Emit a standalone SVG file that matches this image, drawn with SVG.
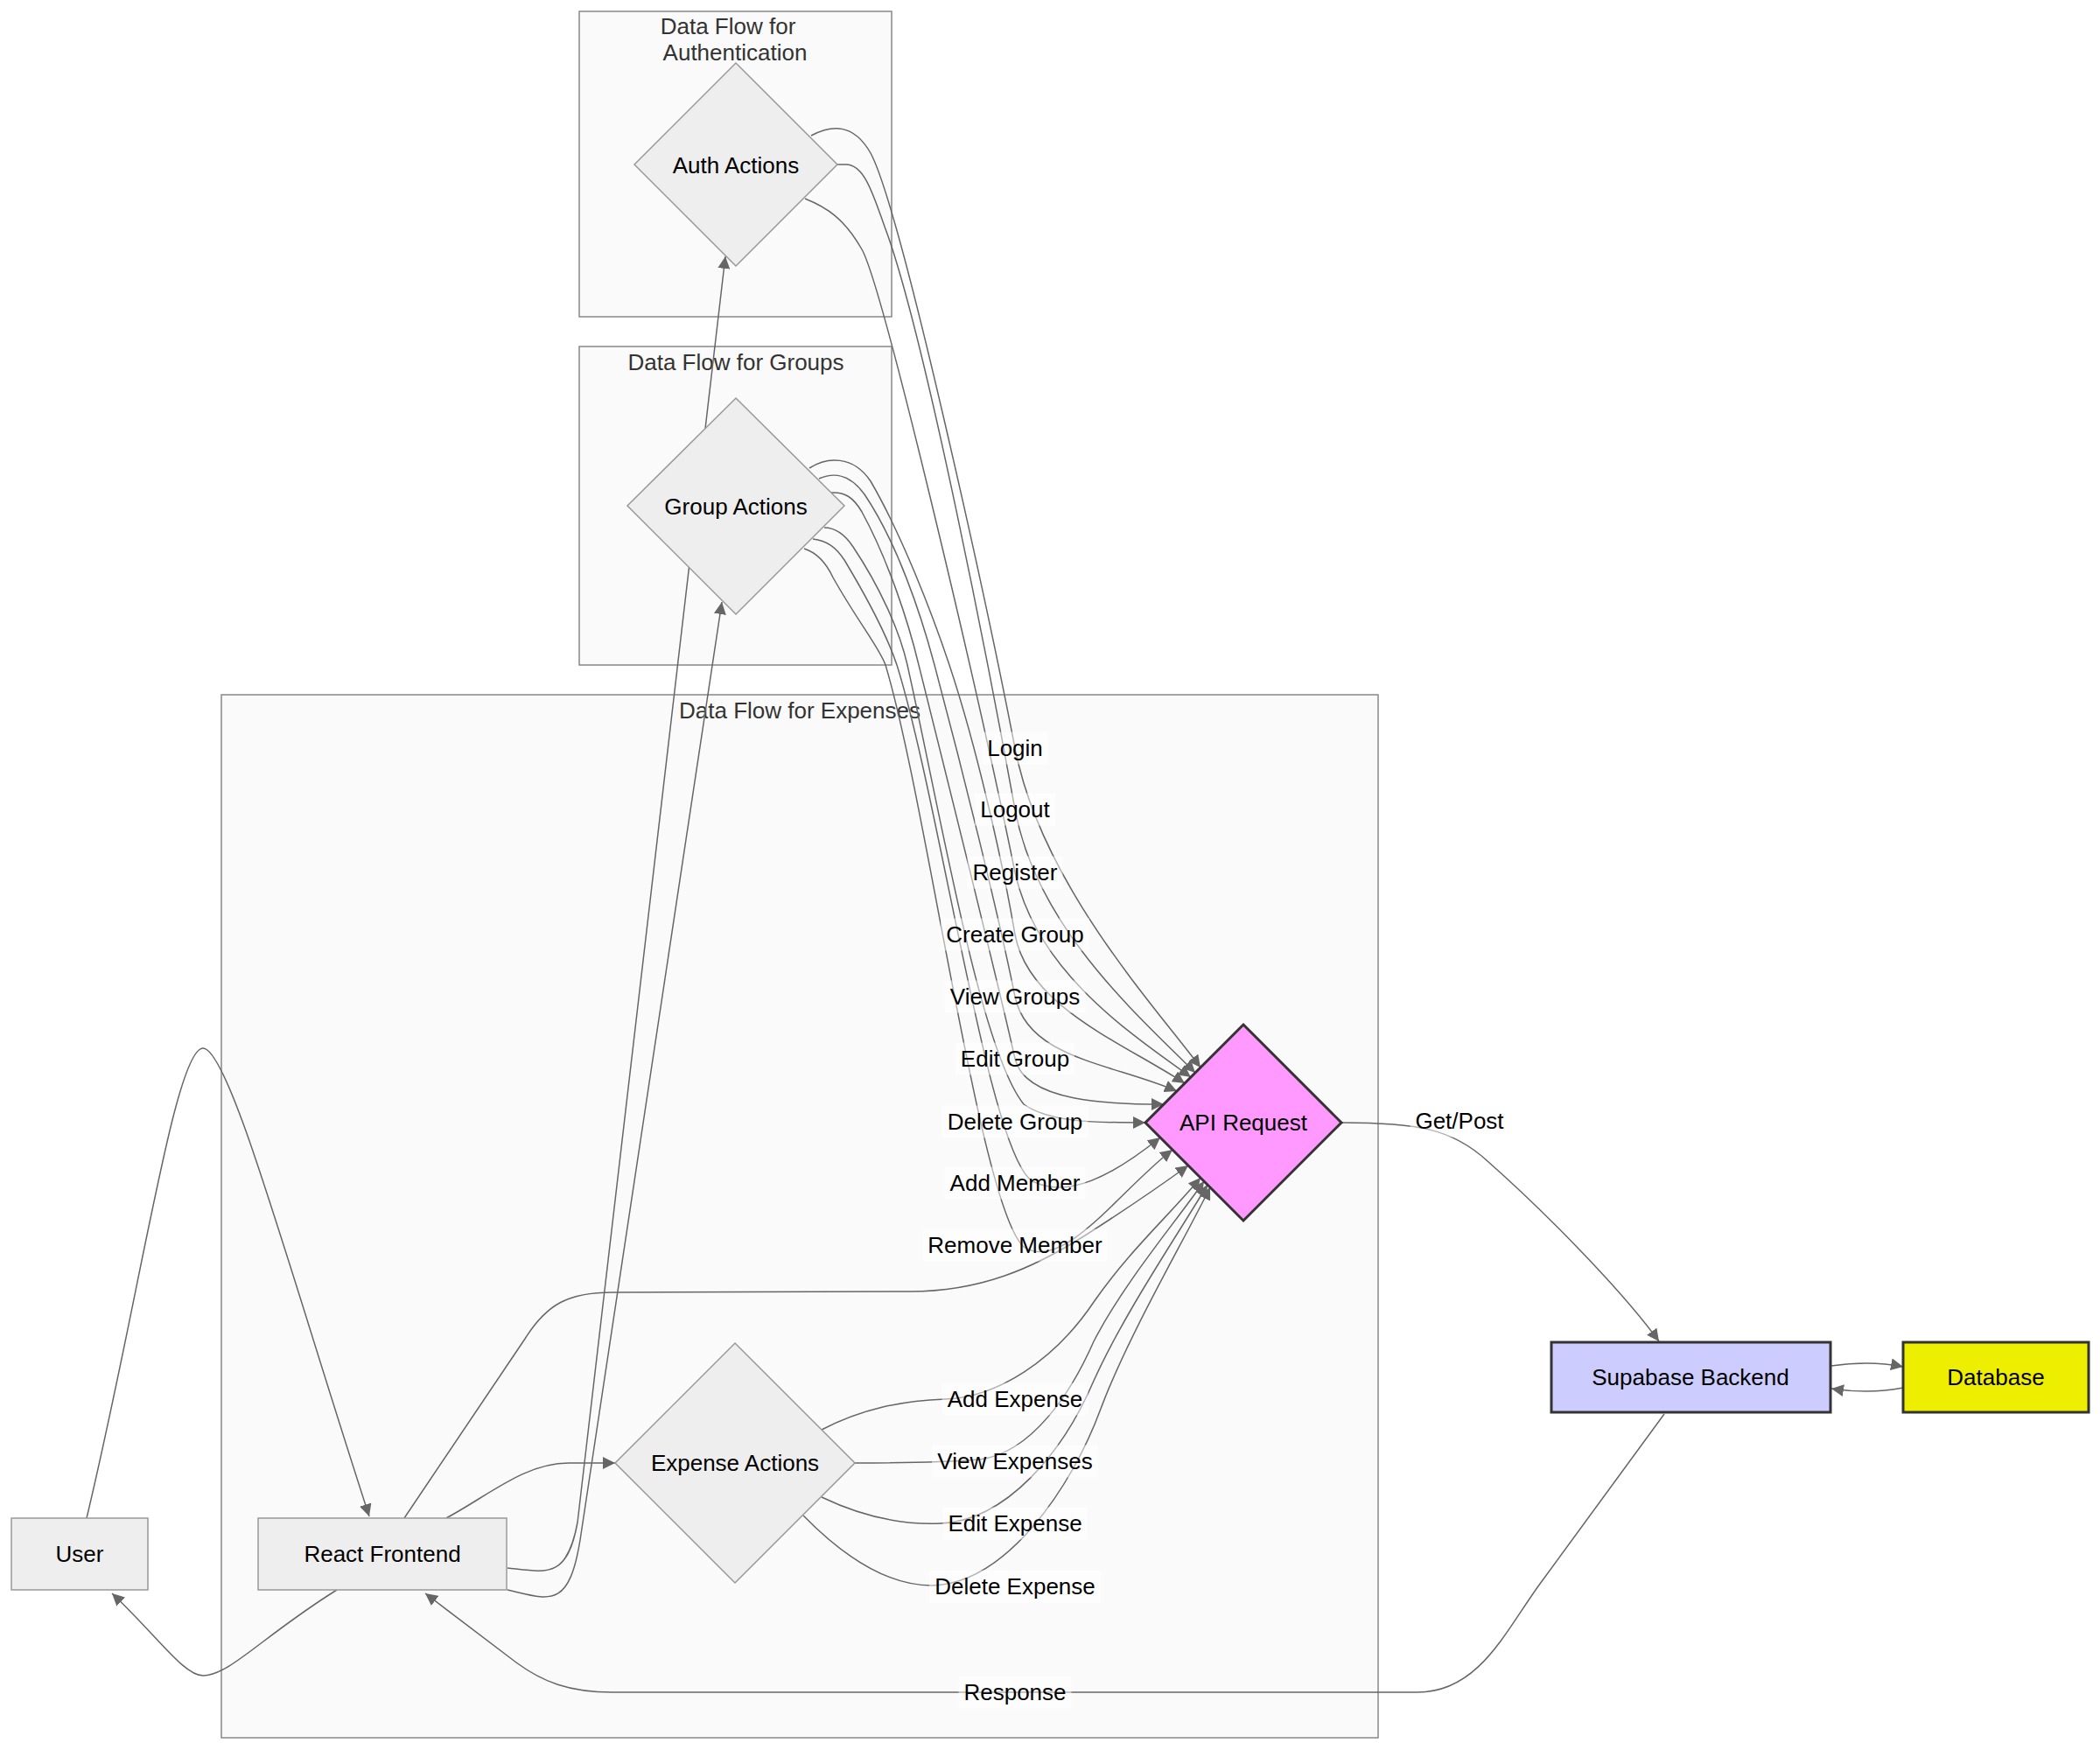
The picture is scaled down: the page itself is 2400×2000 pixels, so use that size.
<svg xmlns="http://www.w3.org/2000/svg" width="2400" height="2000" viewBox="0 0 2400 2000">
<defs>
  <marker id="arrow" viewBox="0 0 10 10" refX="10" refY="5" markerUnits="userSpaceOnUse" markerWidth="14" markerHeight="14" orient="auto">
    <path d="M0,0 L10,5 L0,10 z" fill="#666"/>
  </marker>
</defs>
<style>
  text { font-family: "Liberation Sans", Arial, sans-serif; font-size: 26px; }
  .cluster rect { fill: #fafafa; stroke: #888; stroke-width: 1.5; }
  .cluster text { fill: #333; text-anchor: middle; }
  .node rect, .node polygon { fill: #eee; stroke: #999; stroke-width: 1.5; }
  .node text { fill: #000; text-anchor: middle; }
  .node.api polygon { fill: #f9f; stroke: #333; stroke-width: 3; }
  .node.backend rect { fill: #ccf; stroke: #333; stroke-width: 3; }
  .node.db rect { fill: #ee0; stroke: #333; stroke-width: 3; }
  .edge { fill: none; stroke: #666; stroke-width: 1.5; marker-end: url(#arrow); }
  .label rect { fill: #fff; opacity: 0.5; }
  .label text { fill: #000; text-anchor: middle; }
</style>
<rect width="2400" height="2000" fill="#fff"/>

<!-- subgraphs -->
<g id="cluster-auth" class="cluster">
  <rect x="662" y="13" width="357" height="349"/>
  <text x="832" y="39">Data Flow for</text>
  <text x="840" y="69">Authentication</text>
</g>
<g id="cluster-groups" class="cluster">
  <rect x="662" y="396" width="357" height="364"/>
  <text x="841" y="423">Data Flow for Groups</text>
</g>
<g id="cluster-expenses" class="cluster">
  <rect x="253" y="794" width="1322" height="1192"/>
  <text x="914" y="821">Data Flow for Expenses</text>
</g>

<!-- connectors -->
<g id="connectors">
  <path class="edge" d="M99,1735 C160,1480 200,1198 232,1198 C262,1198 330,1450 422,1733"/>
  <path class="edge" d="M385,1817 C300,1870 262,1915 232,1915 C210,1915 180,1870 128,1821"/>
  <path class="edge" d="M580,1792 C625,1797 648,1805 660,1740 L829,293"/>
  <path class="edge" d="M580,1817 C628,1828 650,1840 663,1760 L825,688"/>
  <path class="edge" d="M510,1735 C560,1708 600,1672 650,1672 L703,1672"/>
  <path class="edge" d="M462,1735 L600,1530 C625,1490 650,1477 700,1477 L1040,1476 C1120,1476 1180,1450 1240,1412 C1290,1380 1325,1356 1358,1332"/>

  <!-- auth actions -->
  <path class="edge" d="M927,155 C950,143 975,140 995,175 C1030,240 1130,700 1160,855 C1190,1010 1320,1150 1372,1220"/>
  <path class="edge" d="M957,188 L967,188 C990,188 1000,230 1015,270 C1060,400 1130,760 1160,925 C1185,1060 1300,1160 1366,1226"/>
  <path class="edge" d="M920,227 C945,237 965,250 985,285 C1010,330 1120,800 1160,997 C1185,1110 1290,1180 1361,1231"/>

  <!-- group actions -->
  <path class="edge" d="M925,535 C945,522 975,520 995,550 C1030,610 1065,700 1085,760 C1115,850 1145,980 1160,1068 C1175,1150 1280,1190 1354,1238"/>
  <path class="edge" d="M936,547 C952,540 970,540 988,565 C1025,620 1052,700 1068,760 C1100,880 1140,1040 1160,1139 C1175,1210 1270,1215 1345,1247"/>
  <path class="edge" d="M950,563 C965,562 975,568 985,585 C1015,640 1038,710 1050,760 C1085,900 1140,1120 1160,1210 C1172,1260 1270,1262 1330,1262"/>
  <path class="edge" d="M942,603 C955,603 965,610 975,625 C1005,670 1028,720 1037,760 C1075,930 1120,1200 1170,1262 C1200,1283 1250,1283 1309,1283"/>
  <path class="edge" d="M929,616 C945,618 955,625 965,640 C995,690 1015,730 1025,760 C1075,920 1130,1320 1180,1350 C1220,1370 1270,1345 1326,1300"/>
  <path class="edge" d="M919,627 C935,632 945,645 952,660 C980,710 1005,740 1012,760 C1060,920 1120,1380 1170,1425 C1215,1455 1280,1360 1340,1314"/>

  <!-- expense actions -->
  <path class="edge" d="M939,1634 C985,1610 1030,1601 1080,1599 C1140,1597 1205,1555 1250,1488 C1290,1430 1340,1385 1372,1346"/>
  <path class="edge" d="M977,1672 C1030,1672 1080,1671 1120,1668 C1180,1660 1225,1590 1250,1533 C1285,1465 1345,1395 1376,1350"/>
  <path class="edge" d="M939,1711 C985,1733 1030,1743 1075,1741 C1150,1738 1215,1660 1250,1578 C1285,1500 1350,1405 1380,1354"/>
  <path class="edge" d="M918,1732 C965,1780 1015,1812 1065,1812 C1150,1810 1225,1700 1258,1610 C1290,1525 1352,1420 1383,1357"/>

  <!-- backend -->
  <path class="edge" d="M1533,1283 C1620,1283 1660,1290 1700,1327 C1760,1380 1850,1470 1896,1533"/>
  <path class="edge" d="M2093,1561 C2120,1557 2150,1557 2175,1562"/>
  <path class="edge" d="M2175,1586 C2150,1591 2120,1591 2093,1587"/>
  <path class="edge" d="M1902,1616 L1760,1810 C1720,1865 1690,1934 1620,1934 L700,1934 C650,1934 620,1922 590,1900 L486,1821"/>
</g>

<!-- connector labels -->
<g id="connector-labels">
  <g class="label"><rect x="1122" y="836.5" width="76" height="37"/><text x="1160" y="864">Login</text></g>
  <g class="label"><rect x="1114" y="906.5" width="92" height="37"/><text x="1160" y="934">Logout</text></g>
  <g class="label"><rect x="1105.5" y="978.5" width="109" height="37"/><text x="1160" y="1006">Register</text></g>
  <g class="label"><rect x="1075" y="1049.5" width="170" height="37"/><text x="1160" y="1077">Create Group</text></g>
  <g class="label"><rect x="1079.5" y="1120.5" width="161" height="37"/><text x="1160" y="1148">View Groups</text></g>
  <g class="label"><rect x="1092" y="1191.5" width="136" height="37"/><text x="1160" y="1219">Edit Group</text></g>
  <g class="label"><rect x="1076.5" y="1263.5" width="167" height="37"/><text x="1160" y="1291">Delete Group</text></g>
  <g class="label"><rect x="1079.5" y="1333.5" width="161" height="37"/><text x="1160" y="1361">Add Member</text></g>
  <g class="label"><rect x="1054.5" y="1404.5" width="211" height="37"/><text x="1160" y="1432">Remove Member</text></g>
  <g class="label"><rect x="1076.5" y="1580.5" width="167" height="37"/><text x="1160" y="1608">Add Expense</text></g>
  <g class="label"><rect x="1065" y="1651.5" width="190" height="37"/><text x="1160" y="1679">View Expenses</text></g>
  <g class="label"><rect x="1077.5" y="1722.5" width="165" height="37"/><text x="1160" y="1750">Edit Expense</text></g>
  <g class="label"><rect x="1062" y="1794.5" width="196" height="37"/><text x="1160" y="1822">Delete Expense</text></g>
  <g class="label"><rect x="1095.5" y="1915.5" width="129" height="37"/><text x="1160" y="1943">Response</text></g>
  <g class="label"><rect x="1611.5" y="1262.5" width="113" height="37"/><text x="1668" y="1290">Get/Post</text></g>
</g>

<!-- nodes -->
<g id="node-user" class="node">
  <rect x="13" y="1735" width="156" height="82"/>
  <text x="91" y="1785">User</text>
</g>
<g id="node-frontend" class="node">
  <rect x="295" y="1735" width="284" height="82"/>
  <text x="437" y="1785">React Frontend</text>
</g>
<g id="node-auth" class="node">
  <polygon points="841,72 957,188 841,304 725,188"/>
  <text x="841" y="198">Auth Actions</text>
</g>
<g id="node-groups" class="node">
  <polygon points="841,455 965,578 841,702 717,578"/>
  <text x="841" y="588">Group Actions</text>
</g>
<g id="node-expenses" class="node">
  <polygon points="840,1535 977,1672 840,1809 703,1672"/>
  <text x="840" y="1681">Expense Actions</text>
</g>
<g id="node-api" class="node api">
  <polygon points="1421,1171 1533,1283 1421,1395 1309,1283"/>
  <text x="1421" y="1292">API Request</text>
</g>
<g id="node-backend" class="node backend">
  <rect x="1773" y="1534" width="319" height="80"/>
  <text x="1932" y="1583">Supabase Backend</text>
</g>
<g id="node-db" class="node db">
  <rect x="2175" y="1534" width="212" height="80"/>
  <text x="2281" y="1583">Database</text>
</g>
</svg>
